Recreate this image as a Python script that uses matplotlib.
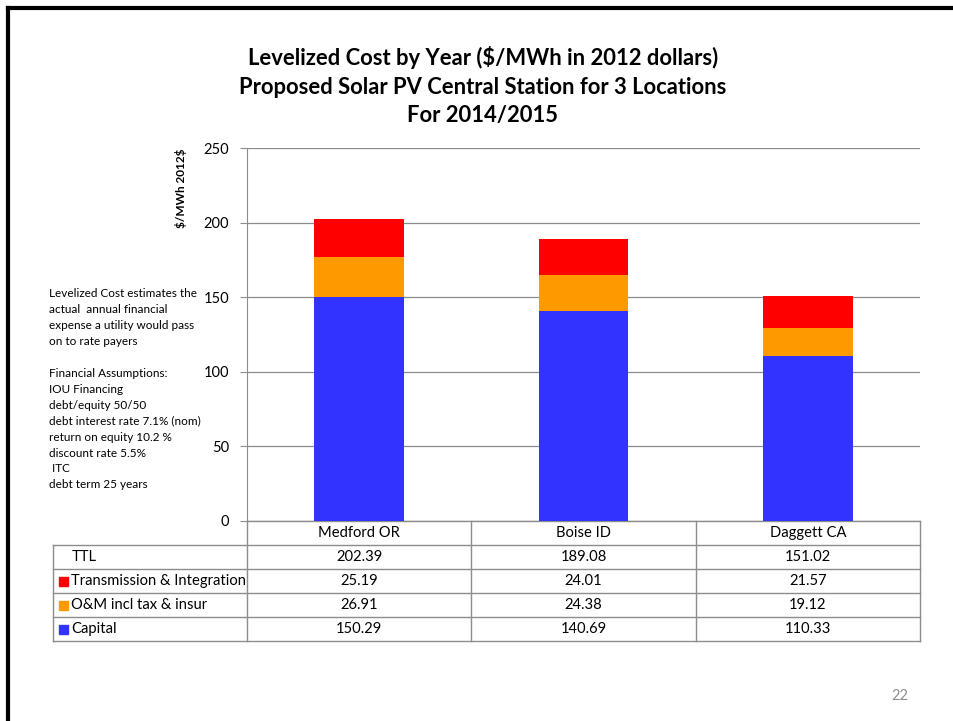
import matplotlib.pyplot as plt
from matplotlib.lines import Line2D
from matplotlib.patches import Rectangle

plt.rcParams['font.family'] = ['Lato', 'DejaVu Sans']

locations = ['Medford OR', 'Boise ID', 'Daggett CA']
capital = [150.29, 140.69, 110.33]
om = [26.91, 24.38, 19.12]
trans = [25.19, 24.01, 21.57]
ttl = [202.39, 189.08, 151.02]
series_names = ['Transmission & Integration', 'O&M incl tax & insur', 'Capital']
colors = {'Capital': '#3333FF', 'O&M incl tax & insur': '#FF9900',
          'Transmission & Integration': '#FF0000'}

W, H = 954, 721
fig = plt.figure(figsize=(W / 100, H / 100), dpi=100)

# slide border
fig.add_artist(Line2D([8 / W, 8 / W], [0, 1 - 8 / H], color='black', lw=3))
fig.add_artist(Line2D([8 / W, 1], [1 - 8 / H, 1 - 8 / H], color='black', lw=3))

ax_l, ax_r, ax_t, ax_b = 247, 920, 148, 521
ax = fig.add_axes([ax_l / W, 1 - ax_b / H, (ax_r - ax_l) / W, (ax_b - ax_t) / H])

x = list(range(len(locations)))
bw = 0.4
ax.bar(x, capital, bw, color=colors['Capital'], zorder=3)
ax.bar(x, om, bw, bottom=capital, color=colors['O&M incl tax & insur'], zorder=3)
bottom2 = [c + o for c, o in zip(capital, om)]
ax.bar(x, trans, bw, bottom=bottom2, color=colors['Transmission & Integration'], zorder=3)

ax.set_xlim(-0.5, 2.5)
ax.set_ylim(0, 250)
ax.set_yticks([0, 50, 100, 150, 200, 250])
ax.yaxis.grid(True, color='#8c8c8c', lw=0.9)
ax.set_axisbelow(True)
ax.set_xticks([])
for s in ['top', 'right', 'bottom']:
    ax.spines[s].set_visible(False)
ax.spines['left'].set_color('#8c8c8c')
ax.tick_params(axis='y', length=5, color='#8c8c8c', labelsize=10.5, pad=8)

ax.text(-0.098, 1.0, r'\$/MWh 2012\$', transform=ax.transAxes, rotation=90,
        ha='center', va='top', fontsize=8.5, fontweight='bold')

# data table below the plot
ph = ax_b - ax_t
pw = ax_r - ax_l
rh = 24 / ph
left_x = (53 - ax_l) / pw
gc = '#8c8c8c'
rows = [('TTL', ttl, None)] + [(n, {'Transmission & Integration': trans,
                                    'O&M incl tax & insur': om,
                                    'Capital': capital}[n], colors[n]) for n in series_names]

def hline(x0, x1, y):
    ax.add_line(Line2D([x0, x1], [y, y], transform=ax.transAxes, color=gc, lw=1, clip_on=False))

def vline(xx, y0, y1):
    ax.add_line(Line2D([xx, xx], [y0, y1], transform=ax.transAxes, color=gc, lw=1, clip_on=False))

n = len(rows)
for i in range(len(locations) + 1):
    vline(i / 3, 0, -(n + 1) * rh)
vline(left_x, -rh, -(n + 1) * rh)
hline(0, 1, 0)
for k in range(1, n + 2):
    hline(left_x, 1, -k * rh)

fs = 10.6
for i, loc in enumerate(locations):
    ax.text((i + 0.5) / 3, -0.5 * rh, loc, transform=ax.transAxes,
            ha='center', va='center', fontsize=fs)
for k, (name, vals, col) in enumerate(rows):
    yc = -(k + 1.5) * rh
    if col is None:
        ax.text(left_x + 19 / pw, yc, name, transform=ax.transAxes, ha='left', va='center', fontsize=fs)
    else:
        ax.add_patch(Rectangle((left_x + 6 / pw, yc - 4.5 / ph), 9 / pw, 9 / ph,
                               transform=ax.transAxes, color=col, clip_on=False))
        ax.text(left_x + 18 / pw, yc, name, transform=ax.transAxes, ha='left', va='center', fontsize=fs)
    for i, v in enumerate(vals):
        ax.text((i + 0.5) / 3, yc, f'{v:.2f}', transform=ax.transAxes,
                ha='center', va='center', fontsize=fs)

fig.text(483 / W, 1 - 86 / H,
         'Levelized Cost by Year ($/MWh in 2012 dollars)\nProposed Solar PV Central Station for 3 Locations\nFor 2014/2015',
         ha='center', va='center', fontsize=15.8, fontweight='bold', linespacing=1.45)

note = ('Levelized Cost estimates the\nactual  annual financial\nexpense a utility would pass\n'
        'on to rate payers\n\nFinancial Assumptions:\nIOU Financing\ndebt/equity 50/50\n'
        'debt interest rate 7.1% (nom)\nreturn on equity 10.2 %\ndiscount rate 5.5%\n ITC\ndebt term 25 years')
fig.text(49 / W, 1 - 288 / H, note, ha='left', va='top', fontsize=8.5, linespacing=1.55)

fig.text(900 / W, 1 - 696 / H, '22', ha='center', va='center', fontsize=10.5, color='#8c8c8c')

fig.savefig('out.png', dpi=100)
